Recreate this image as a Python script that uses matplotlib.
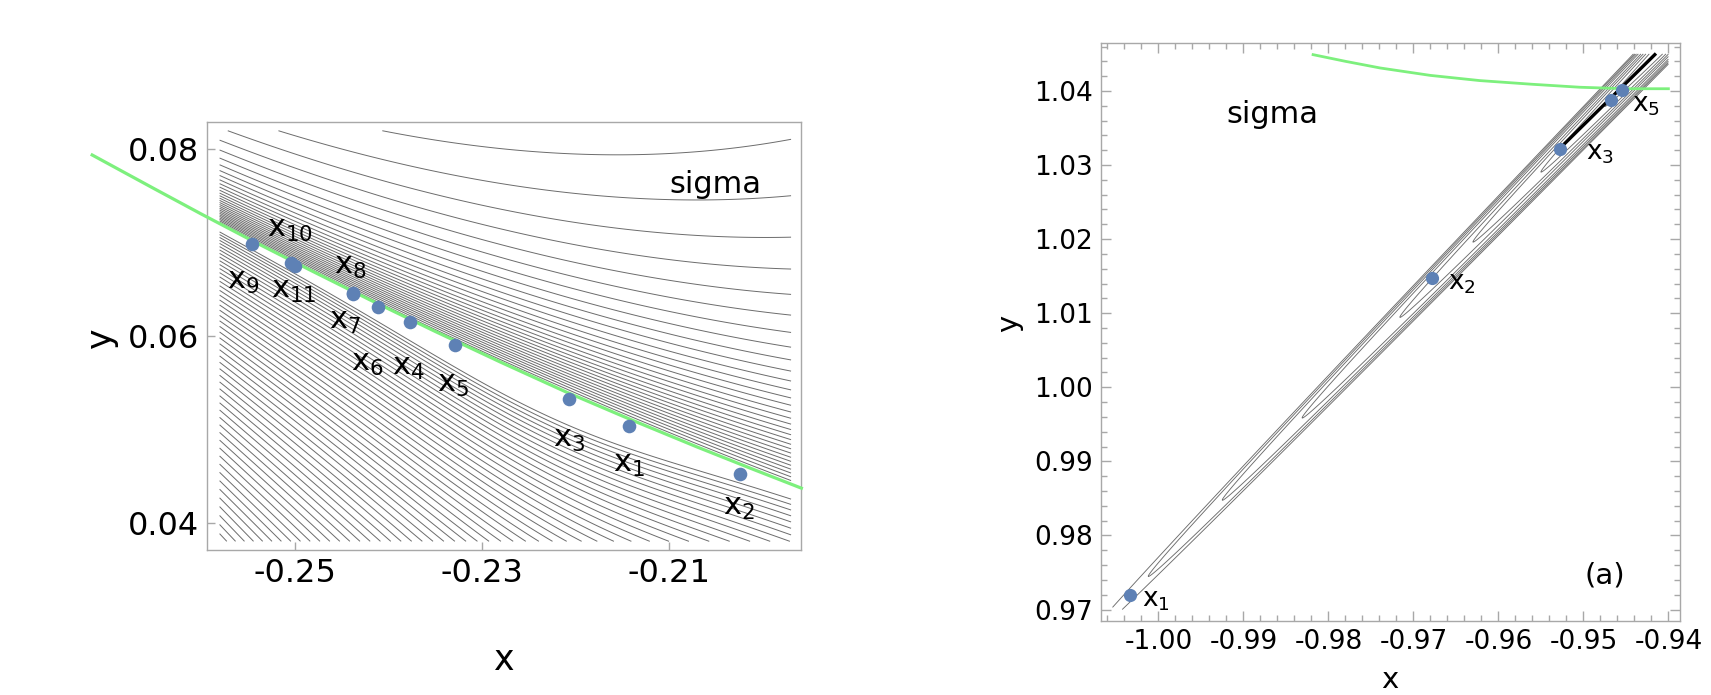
import numpy as np
import matplotlib.pyplot as plt
from matplotlib.ticker import MultipleLocator, FixedLocator, FormatStrFormatter

# ---------------- left panel data ----------------
sig_l_x = [-0.2716, -0.2650, -0.2600, -0.2543, -0.2480, -0.2420, -0.2350,
           -0.2280, -0.2210, -0.2140, -0.2070, -0.2010, -0.1959]
sig_l_y = [0.0794, 0.0758, 0.0731, 0.0701, 0.0669, 0.0639, 0.0605,
           0.0572, 0.0540, 0.0510, 0.0481, 0.0457, 0.0437]

pts_l_x = [-0.2143, -0.2025, -0.2207, -0.2377, -0.2329, -0.2411,
           -0.2438, -0.2438, -0.2545, -0.2504, -0.2499]
pts_l_y = [0.0504, 0.0452, 0.0533, 0.0615, 0.0590, 0.0631,
           0.0645, 0.0646, 0.0699, 0.0678, 0.0675]
pts_l_lab = ["1", "2", "3", "4", "5", "6", "7", "8", "9", "10", "11"]

# ---------------- right panel data ----------------
sig_r_x = [-0.9818, -0.9780, -0.9739, -0.9680, -0.9622, -0.9560, -0.9504, -0.9450, -0.9400]
sig_r_y = [1.0449, 1.0440, 1.0431, 1.0421, 1.0414, 1.0409, 1.0405, 1.0403, 1.0403]

pts_r_x = [-1.0033, -0.9678, -0.9528, -0.9467, -0.9455]
pts_r_y = [0.9720, 1.0148, 1.0321, 1.0388, 1.0401]
pts_r_lab = ["1", "2", "3", "", "5"]

path_r_x = [-0.9522, -0.9416]
path_r_y = [1.0329, 1.0449]

# x positions where the nested valley contours close (right panel)
tips_r = [-1.0095, -1.0012, -0.9925, -0.9831, -0.9716, -0.9630, -0.9550, -0.9475]

BLUE = "#5E81B5"
GREEN = "#7DF07D"
GREY = "#6c6c6c"
FRAME = "#a8a8a8"

plt.rcParams["font.family"] = "DejaVu Sans"
plt.rcParams["mathtext.fontset"] = "dejavusans"

fig = plt.figure(figsize=(17.11, 6.95), dpi=100)
ax1 = fig.add_axes((0.1210, 0.2086, 0.3472, 0.6158))
ax2 = fig.add_axes((0.6435, 0.1065, 0.3384, 0.8317))

# ================= left panel =================
gx = np.linspace(-0.258, -0.197, 800)
gy = np.linspace(0.038, 0.082, 800)
X, Y = np.meshgrid(gx, gy)
cf = np.polyfit(sig_l_x, sig_l_y, 2)
R = np.polyval(cf, X)
s = Y - R
E = np.exp(15.5 * (X + 0.197))
c0 = 0.009
up = np.ma.masked_invalid(np.where(s >= 0, np.arctan(s / (c0 * E)), np.nan))
ax1.contour(X, Y, up, levels=np.arange(0.0444, 1.34, 0.0444),
            colors=GREY, linewidths=0.7, linestyles="solid", zorder=1)

gap = 0.0005 + 0.0026 * np.exp(-((X + 0.222) / 0.02) ** 2)
t = (R - gap - Y) / (X + 0.32)
low = np.ma.masked_invalid(np.where(t >= 0, t, np.nan))
k = np.arange(0, 60)
ax1.contour(X, Y, low, levels=0.0043 * (k + 0.026 * k ** 2),
            colors=GREY, linewidths=0.7, linestyles="solid", zorder=1)

ax1.plot(sig_l_x, sig_l_y, color=GREEN, lw=2.3, clip_on=False, zorder=3)
ax1.plot(pts_l_x, pts_l_y, "o", color=BLUE, ms=9.8, mec="none", zorder=4)

off_l = [(0, -39), (-1, -33), (0, -41), (-1, -45), (-2, -39), (-11, -56),
         (-8, -27), (-2, 27), (-9, -38), (-1, 34), (-2, -24)]
for px, py, lab, off in zip(pts_l_x, pts_l_y, pts_l_lab, off_l):
    ax1.annotate(r"$\mathrm{x}_{%s}$" % lab, (px, py), xytext=off,
                 textcoords="offset pixels", ha="center", va="center", fontsize=22)
ax1.text(-0.2051, 0.0762, "sigma", fontsize=22, ha="center", va="center")

ax1.set_xlim(-0.25934, -0.19593)
ax1.set_ylim(0.03707, 0.08293)
ax1.xaxis.set_major_locator(FixedLocator([-0.25, -0.23, -0.21]))
ax1.yaxis.set_major_locator(FixedLocator([0.04, 0.06, 0.08]))
ax1.xaxis.set_major_formatter(FormatStrFormatter("%.2f"))
ax1.yaxis.set_major_formatter(FormatStrFormatter("%.2f"))
ax1.tick_params(direction="in", length=6, width=1, color=FRAME, labelsize=23, pad=6)
ax1.set_xlabel("x", fontsize=25)
ax1.set_ylabel("y", fontsize=25)
ax1.xaxis.set_label_coords(0.5, -0.217)
ax1.yaxis.set_label_coords(-0.150, 0.495)

# ================= right panel =================
rx = np.linspace(-1.0054, -0.94, 900)
ry = np.linspace(0.97, 1.045, 1500)
RX, RY = np.meshgrid(rx, ry)
vline = np.polyfit([pts_r_x[0], path_r_x[-1]], [pts_r_y[0], path_r_y[-1]], 1)
P = RY - np.polyval(vline, RX)
F = RX - (P / 0.012) ** 2
ax2.contour(RX, RY, F, levels=tips_r, colors=GREY, linewidths=0.65,
            linestyles="solid", zorder=1)

ax2.plot(path_r_x, path_r_y, color="black", lw=2.4, zorder=2)
ax2.plot(sig_r_x, sig_r_y, color=GREEN, lw=2.0, zorder=3)
ax2.plot(pts_r_x, pts_r_y, "o", color=BLUE, ms=9.5, mec="none", zorder=4)

off_r = [(26, -5), (30, -5), (40, -4), (0, 0), (24, -15)]
for px, py, lab, off in zip(pts_r_x, pts_r_y, pts_r_lab, off_r):
    if lab:
        ax2.annotate(r"$\mathrm{x}_{%s}$" % lab, (px, py), xytext=off,
                     textcoords="offset pixels", ha="center", va="center", fontsize=19)
ax2.text(-0.98654, 1.03677, "sigma", fontsize=22, ha="center", va="center")
ax2.text(-0.9475, 0.9746, "(a)", fontsize=21, ha="center", va="center")

ax2.set_xlim(-1.00675, -0.93863)
ax2.set_ylim(0.96845, 1.04648)
ax2.xaxis.set_major_locator(MultipleLocator(0.01))
ax2.xaxis.set_minor_locator(MultipleLocator(0.002))
ax2.yaxis.set_major_locator(MultipleLocator(0.01))
ax2.yaxis.set_minor_locator(MultipleLocator(0.002))
ax2.xaxis.set_major_formatter(FormatStrFormatter("%.2f"))
ax2.yaxis.set_major_formatter(FormatStrFormatter("%.2f"))
ax2.tick_params(which="both", direction="in", top=True, right=True,
                color=FRAME, width=1, labelsize=19, pad=6)
ax2.tick_params(which="major", length=7)
ax2.tick_params(which="minor", length=4)
ax2.set_ylabel("y", fontsize=21)
ax2.yaxis.set_label_coords(-0.135, 0.514)
# axis title sits right at the bottom edge of the figure, as in the original
ax2.text(0.499, -0.1159, "x", fontsize=21, ha="center", va="baseline",
         transform=ax2.transAxes)

for a in (ax1, ax2):
    for sp in a.spines.values():
        sp.set_color(FRAME)
        sp.set_linewidth(1.0)

fig.savefig("out.png", dpi=100)
